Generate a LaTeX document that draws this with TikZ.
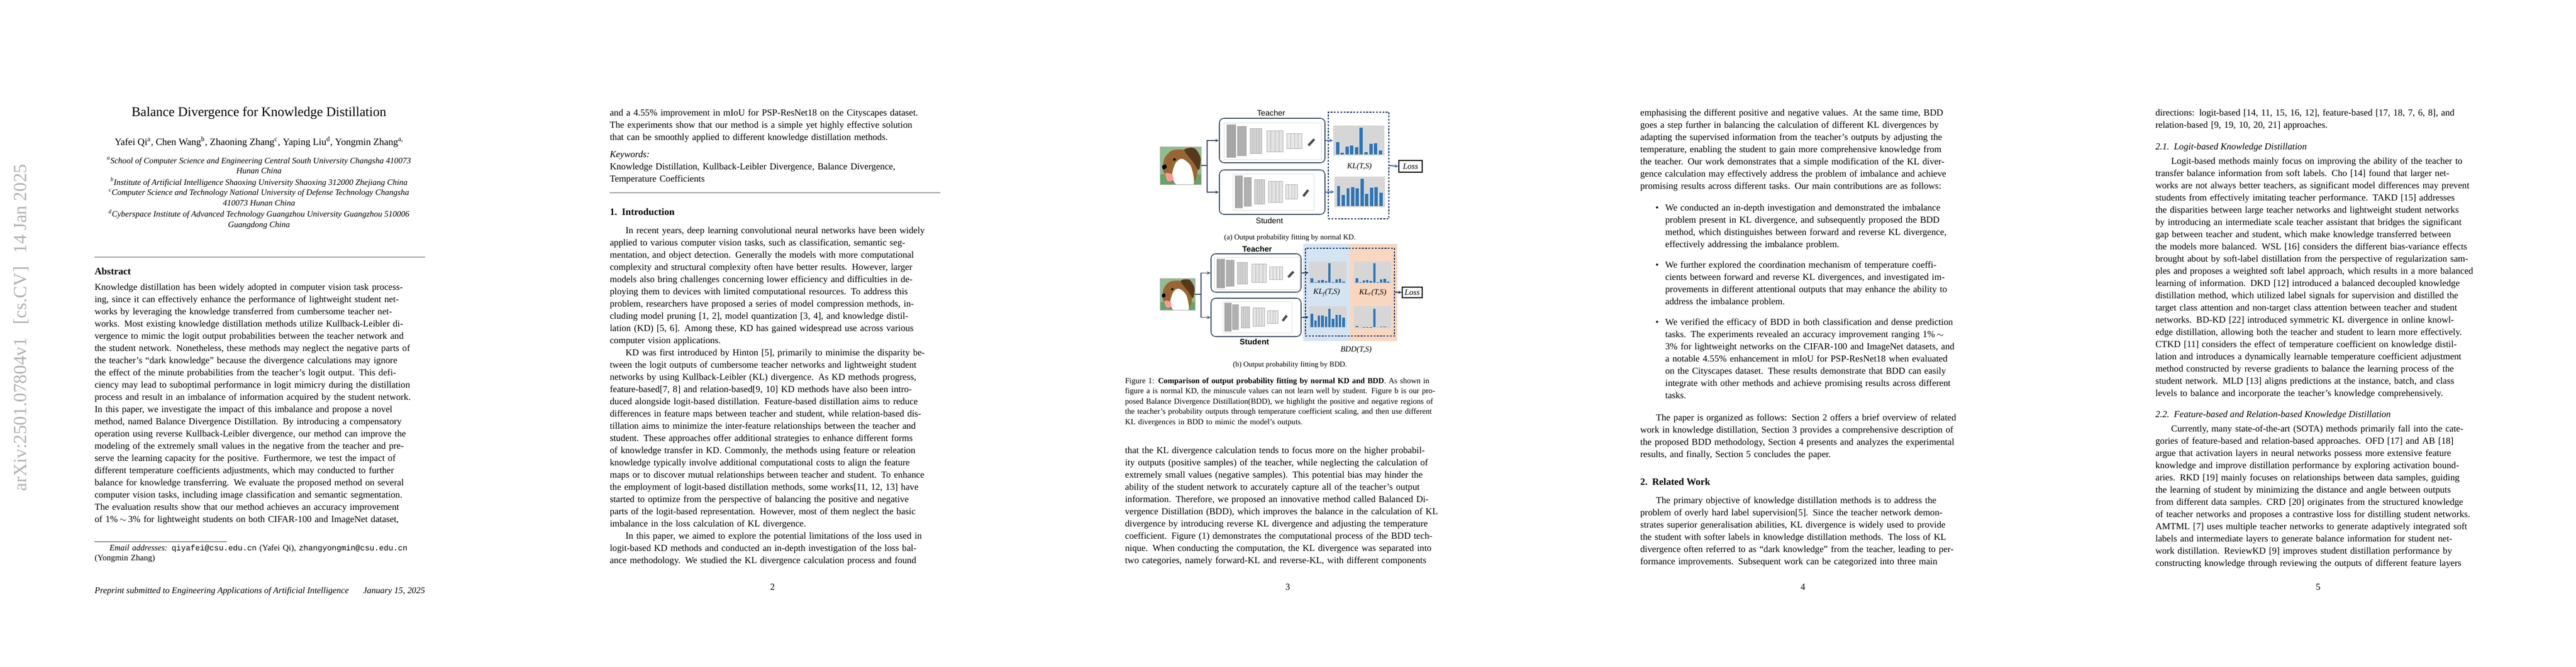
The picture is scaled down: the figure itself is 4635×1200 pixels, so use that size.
\documentclass[tikz,border=0pt]{standalone}
\usepackage{fontspec}
\setmainfont{Liberation Serif}
\setmonofont{Liberation Mono}
\newfontfamily\figsans{Liberation Sans}
\usetikzlibrary{arrows.meta,fit}
\definecolor{barblue}{RGB}{46,117,182}
\definecolor{slate}{RGB}{68,84,106}
\definecolor{arrblue}{RGB}{68,114,196}
\definecolor{navy}{RGB}{31,56,100}
\definecolor{bgblue}{RGB}{212,228,243}
\definecolor{bgorange}{RGB}{249,214,192}
\newcommand\jl[1]{\makebox[\hsize][s]{\strut#1}\\}
\newcommand\el[1]{\strut#1}
\newcommand\pct[1]{\mbox{#1\%}}
\newcommand\tld{\mbox{\,$\sim$\,}}
\newcommand\convs[4]{%
 \pgfmathsetmacro\cxa{#1}\pgfmathsetmacro\cya{#2}\pgfmathsetmacro\cW{#3-#1}\pgfmathsetmacro\cH{#4-#2}%
 \draw[gray!25, fill=white] (#1,#2) rectangle (#3,#4);
 \foreach \ff/\ww/\hh/\cc in {0.03/0.09/0.9/gray!75,0.14/0.09/0.8/gray!65,0.27/0.12/0.68/gray!35,0.44/0.17/0.58/gray!22,0.65/0.15/0.4/gray!18}{
   \fill[\cc, draw=gray!60] ({\cxa+\ff*\cW},{\cya+(0.5+\hh/2)*\cH}) rectangle ({\cxa+(\ff+\ww)*\cW},{\cya+(0.5-\hh/2)*\cH});
   \foreach \k in {1,2,3}{\draw[gray!55, line width=0.2pt] ({\cxa+(\ff+\k*\ww/4)*\cW},{\cya+(0.5+\hh/2)*\cH}) -- ({\cxa+(\ff+\k*\ww/4)*\cW},{\cya+(0.5-\hh/2)*\cH});}
 }
 \draw[line width=2.5pt, black!70] ({\cxa+0.87*\cW},{\cya+0.62*\cH}) -- ({\cxa+0.93*\cW},{\cya+0.45*\cH});
}
\newcommand\hist[5]{%
 \pgfmathsetmacro\hxa{#1}\pgfmathsetmacro\hyb{#4}\pgfmathsetmacro\hW{#3-#1}\pgfmathsetmacro\hH{#4-#2}%
 \fill[gray!32] (#1,#2) rectangle (#3,#4);
 \foreach \hv [count=\i from 0] in {#5}{
   \fill[barblue] ({\hxa+(0.05+\i*0.093)*\hW},{\hyb-0.04*\hH}) rectangle ({\hxa+(0.05+\i*0.093+0.065)*\hW},{\hyb-0.04*\hH-\hv*0.88*\hH});}
}
\newcommand\dogpic[3]{%
 \begin{scope}[shift={(#1,#2)}, scale=#3]
  \fill[green!25!gray!70] (0,0) rectangle (74,68);
  \fill[green!40!black!60] (0,50) rectangle (74,68);
  \fill[brown!80!black] plot[smooth cycle] coordinates {(8,22)(20,8)(36,5)(54,8)(64,20)(68,42)(62,62)(40,68)(20,62)(6,44)};
  \fill[brown!45!black] plot[smooth cycle] coordinates {(44,6)(62,3)(73,20)(70,42)(60,28)};
  \fill[white] plot[smooth cycle] coordinates {(28,30)(40,22)(56,36)(60,68)(30,68)(22,52)};
  \fill[black] plot[smooth cycle] coordinates {(4,35)(10,32)(12,38)(6,41)};
  \fill[pink!80!red] plot[smooth cycle] coordinates {(10,48)(22,50)(24,60)(14,62)};
  \fill[black] plot[smooth cycle] coordinates {(24,22)(28,21)(28,25)(24,25)};
  \draw[gray!60] (0,0) rectangle (74,68);
 \end{scope}}
\tikzset{
 body/.style={anchor=north west, inner sep=0, text width=357pt, align=left, font=\fontsize{10}{13.2}\selectfont},
 bul/.style={body, text width=330pt},
 capt/.style={anchor=north west, inner sep=0, text width=357pt, align=left, font=\fontsize{8.5}{11.1}\selectfont},
 sline/.style={anchor=base, inner sep=0},
 hdg/.style={anchor=base west, inner sep=0, font=\fontsize{10.5}{12}\selectfont\bfseries},
 shdg/.style={anchor=base west, inner sep=0, font=\fontsize{10}{12}\selectfont\itshape},
 pno/.style={anchor=base, inner sep=0, font=\fontsize{10}{12}\selectfont},
 netbox/.style={draw=slate, line width=1pt, rounded corners=5pt, inner sep=0},
 arrc/.style={-{Stealth[length=4pt,width=3.5pt]}, line width=1.1pt, draw=slate},
 arrh/.style={-{Stealth[length=4pt,width=3.5pt]}, line width=1.3pt, draw=arrblue},
 arrn/.style={-{Stealth[length=4pt,width=3.5pt]}, line width=1.1pt, draw=navy},
 dbox/.style={draw=navy, line width=0.7pt, dash pattern=on 2pt off 1.5pt, inner sep=0},
 lossbox/.style={draw=black, line width=0.9pt, inner sep=0, font=\fontsize{9}{10}\selectfont\itshape},
 figlab/.style={inner sep=0, font=\figsans\fontsize{8.5}{10}\selectfont},
 kllab/.style={inner sep=0, font=\fontsize{8.5}{10}\selectfont\itshape},
 subcap/.style={anchor=base, inner sep=0, font=\fontsize{8}{10}\selectfont}
}
\begin{document}
\begin{tikzpicture}[x=0.6pt,y=-0.6pt]
\useasboundingbox (0,0) rectangle (4635,1200);
\fill[white] (0,0) rectangle (4635,1200);

%%%%%%%%%%%%%%%% PAGE 1
\node[inner sep=0, rotate=90, text=gray!60, font=\fontsize{20}{22}\selectfont] (arxiv) at (38,590) {arXiv:2501.07804v1\hspace{14pt}[cs.CV]\hspace{14pt}14 Jan 2025};
\node[sline, font=\fontsize{14.4}{16}\selectfont] (title) at (466,209) {Balance Divergence for Knowledge Distillation};
\node[sline, font=\fontsize{10.5}{12}\selectfont] (authors) at (466,261) {Yafei Qi\textsuperscript{a}, Chen Wang\textsuperscript{b}, Zhaoning Zhang\textsuperscript{c}, Yaping Liu\textsuperscript{d}, Yongmin Zhang\textsuperscript{a,}};
\node[anchor=north, inner sep=0, align=center, font=\fontsize{9}{11.1}\selectfont\itshape] (affil) at (466,281) {%
\strut\textsuperscript{a}School of Computer Science and Engineering Central South University Changsha 410073\\
\strut Hunan China\\
\strut\textsuperscript{b}Institute of Artificial Intelligence Shaoxing University Shaoxing 312000 Zhejiang China\\
\strut\textsuperscript{c}Computer Science and Technology National University of Defense Technology Changsha\\
\strut 410073 Hunan China\\
\strut\textsuperscript{d}Cyberspace Institute of Advanced Technology Guangzhou University Guangzhou 510006\\
\strut Guangdong China};
\draw[gray!70, line width=1pt] (170,463) -- (765,463);
\node[hdg] (abshd) at (170,494) {Abstract};
\node[body] (abs) at (170,507) {%
\jl{Knowledge distillation has been widely adopted in computer vision task process-}
\jl{ing, since it can effectively enhance the performance of lightweight student net-}
\jl{works by leveraging the knowledge transferred from cumbersome teacher net-}
\jl{works. Most existing knowledge distillation methods utilize Kullback-Leibler di-}
\jl{vergence to mimic the logit output probabilities between the teacher network and}
\jl{the student network. Nonetheless, these methods may neglect the negative parts of}
\jl{the teacher's ``dark knowledge'' because the divergence calculations may ignore}
\jl{the effect of the minute probabilities from the teacher's logit output. This defi-}
\jl{ciency may lead to suboptimal performance in logit mimicry during the distillation}
\jl{process and result in an imbalance of information acquired by the student network.}
\jl{In this paper, we investigate the impact of this imbalance and propose a novel}
\jl{method, named Balance Divergence Distillation. By introducing a compensatory}
\jl{operation using reverse Kullback-Leibler divergence, our method can improve the}
\jl{modeling of the extremely small values in the negative from the teacher and pre-}
\jl{serve the learning capacity for the positive. Furthermore, we test the impact of}
\jl{different temperature coefficients adjustments, which may conducted to further}
\jl{balance for knowledge transferring. We evaluate the proposed method on several}
\jl{computer vision tasks, including image classification and semantic segmentation.}
\jl{The evaluation results show that our method achieves an accuracy improvement}
\jl{of \mbox{1\%\tld3\%} for lightweight students on both CIFAR-100 and ImageNet dataset,}};
\draw[black!70, line width=0.6pt] (170,975) -- (408,975);
\node[anchor=north west, inner sep=0, text width=357pt, align=left, font=\fontsize{9}{10.8}\selectfont] (foot) at (170,979) {%
\strut\hspace*{16pt}\textit{Email addresses:} \texttt{\fontsize{8.5}{10}\selectfont qiyafei@csu.edu.cn} (Yafei Qi), \texttt{\fontsize{8.5}{10}\selectfont zhangyongmin@csu.edu.cn}\\
\strut(Yongmin Zhang)};
\node[anchor=base west, inner sep=0, font=\fontsize{9.5}{11}\selectfont\itshape] (prep) at (170,1068) {Preprint submitted to Engineering Applications of Artificial Intelligence};
\node[anchor=base east, inner sep=0, font=\fontsize{9.5}{11}\selectfont\itshape] (date) at (765,1068) {January 15, 2025};

%%%%%%%%%%%%%%%% PAGE 2
\node[body] (p2a) at (1097,193) {%
\jl{and a \pct{4.55} improvement in mIoU for PSP-ResNet18 on the Cityscapes dataset.}
\jl{The experiments show that our method is a simple yet highly effective solution}
\el{that can be smoothly applied to different knowledge distillation methods.}};
\node[anchor=base west, inner sep=0, font=\fontsize{10}{12}\selectfont\itshape] (kwhd) at (1097,283) {Keywords:};
\node[body] (kw) at (1097,290) {%
\strut Knowledge Distillation, Kullback-Leibler Divergence, Balance Divergence,\\
\strut Temperature Coefficients};
\draw[gray!70, line width=1pt] (1097,347) -- (1692,347);
\node[hdg] (intro) at (1097,387) {1.\hspace{5pt}Introduction};
\node[body] (p2b) at (1097,405) {%
\jl{\hspace*{17pt}In recent years, deep learning convolutional neural networks have been widely}
\jl{applied to various computer vision tasks, such as classification, semantic seg-}
\jl{mentation, and object detection. Generally the models with more computational}
\jl{complexity and structural complexity often have better results. However, larger}
\jl{models also bring challenges concerning lower efficiency and difficulties in de-}
\jl{ploying them to devices with limited computational resources. To address this}
\jl{problem, researchers have proposed a series of model compression methods, in-}
\jl{cluding model pruning [1, 2], model quantization [3, 4], and knowledge distil-}
\jl{lation (KD) [5, 6]. Among these, KD has gained widespread use across various}
\el{computer vision applications.}\\
\jl{\hspace*{17pt}KD was first introduced by Hinton [5], primarily to minimise the disparity be-}
\jl{tween the logit outputs of cumbersome teacher networks and lightweight student}
\jl{networks by using Kullback-Leibler (KL) divergence. As KD methods progress,}
\jl{feature-based[7, 8] and relation-based[9, 10] KD methods have also been intro-}
\jl{duced alongside logit-based distillation. Feature-based distillation aims to reduce}
\jl{differences in feature maps between teacher and student, while relation-based dis-}
\jl{tillation aims to minimize the inter-feature relationships between the teacher and}
\jl{student. These approaches offer additional strategies to enhance different forms}
\jl{of knowledge transfer in KD. Commonly, the methods using feature or releation}
\jl{knowledge typically involve additional computational costs to align the feature}
\jl{maps or to discover mutual relationships between teacher and student. To enhance}
\jl{the employment of logit-based distillation methods, some works[11, 12, 13] have}
\jl{started to optimize from the perspective of balancing the positive and negative}
\jl{parts of the logit-based representation. However, most of them neglect the basic}
\el{imbalance in the loss calculation of KL divergence.}\\
\jl{\hspace*{17pt}In this paper, we aimed to explore the potential limitations of the loss used in}
\jl{logit-based KD methods and conducted an in-depth investigation of the loss bal-}
\jl{ance methodology. We studied the KL divergence calculation process and found}};
\node[pno] (pn2) at (1390,1062) {2};

%%%%%%%%%%%%%%%% PAGE 3 : figure (a)
\node[figlab] (teachA) at (2287,203) {Teacher};
\node[netbox, fit={(2194,213)(2384,293)}] (ta) {};
\node[netbox, fit={(2194,306)(2384,386)}] (sa) {};
\convs{2202}{221}{2377}{287}
\convs{2218}{313}{2364}{378}
\node[figlab] (studA) at (2284,397) {Student};
\dogpic{2087}{264}{1}
\node[inner sep=0, fit={(2087,264)(2161,332)}] (dogA) {};
\coordinate (jA) at (2172,298);
\draw[arrc] (dogA.east) -- (jA) |- (ta.west);
\draw[arrc] (jA) |- (sa.west);
\hist{2399}{226}{2491}{280}{0.45,0.05,0.3,0.33,0.28,1.0,0.08,0.4,0.42,0.15}
\hist{2401}{318}{2492}{373}{0.75,0.4,0.65,0.7,0.65,1.0,0.45,0.68,0.7,0.5}
\node[inner sep=0, fit={(2399,226)(2491,280)}] (hTa) {};
\node[inner sep=0, fit={(2401,318)(2492,373)}] (hSa) {};
\node[dbox, fit={(2390,202)(2499,394)}] (dashA) {};
\draw[arrh] (ta.east) -- (hTa.west);
\draw[arrh] (sa.east) -- (hSa.west);
\node[kllab] (klA) at (2446,300) {KL(T,S)};
\node[lossbox, minimum width=25.2pt, minimum height=12.6pt] (lossA) at (2538,299.5) {Loss};
\draw[arrh] (dashA.east) -- (lossA.west);
\node[subcap] (capA) at (2321,431) {(a) Output probability fitting by normal KD.};

%%%%%%%%%%%%%%%% figure (b)
\fill[bgblue] (2345,439) rectangle (2429,614);
\fill[bgorange] (2429,439) rectangle (2514,614);
\node[figlab, font=\figsans\bfseries\fontsize{8.5}{10}\selectfont] (teachB) at (2262,448) {Teacher};
\node[netbox, fit={(2179,457)(2341,526)}] (tb) {};
\node[netbox, fit={(2179,537)(2341,606)}] (sb) {};
\convs{2185}{463}{2338}{521}
\convs{2200}{543}{2324}{599}
\node[figlab, font=\figsans\bfseries\fontsize{8.5}{10}\selectfont] (studB) at (2257,615) {Student};
\dogpic{2087}{501}{0.85}
\node[inner sep=0, fit={(2087,501)(2150,559)}] (dogB) {};
\coordinate (jB) at (2161,530);
\draw[arrc] (dogB.east) -- (jB) |- (tb.west);
\draw[arrc] (jB) |- (sb.west);
\hist{2355}{471}{2423}{511}{0.25,0.04,0.12,0.14,0.1,1.0,0.04,0.18,0.2,0.06}
\hist{2436}{471}{2503}{511}{0.25,0.04,0.12,0.14,0.1,1.0,0.04,0.18,0.2,0.06}
\hist{2355}{551}{2423}{591}{0.7,0.35,0.6,0.6,0.55,0.95,0.45,0.65,0.65,0.5}
\hist{2436}{551}{2503}{591}{0.08,0,0.02,0.02,0.02,0.95,0,0.04,0.04,0}
\node[inner sep=0, fit={(2355,471)(2423,511)}] (hTb) {};
\node[inner sep=0, fit={(2355,551)(2423,591)}] (hSb) {};
\node[dbox, fit={(2349,447)(2509,605)}] (dashB) {};
\draw[arrn] (tb.east) -- (hTb.west);
\draw[arrn] (sb.east) -- (hSb.west);
\node[kllab] (klf) at (2387,527) {KL\textsubscript{f}(T,S)};
\node[kllab] (klr) at (2470,527) {KL\textsubscript{r}(T,S)};
\node[lossbox, minimum width=21.6pt, minimum height=11.4pt] (lossB) at (2541,526.5) {Loss};
\draw[arrn] (dashB.east) -- (lossB.west);
\node[kllab] (bdd) at (2440,630) {BDD(T,S)};
\node[subcap] (capB) at (2321,660) {(b) Output probability fitting by BDD.};

\node[capt] (figcap) at (2024,677) {%
\jl{Figure 1:\hspace{4pt}\textbf{Comparison of output probability fitting by normal KD and BDD}. As shown in}
\jl{figure a is normal KD, the minuscule values can not learn well by student. Figure b is our pro-}
\jl{posed Balance Divergence Distillation(BDD), we highlight the positive and negative regions of}
\jl{the teacher's probability outputs through temperature coefficient scaling, and then use different}
\el{KL divergences in BDD to mimic the model's outputs.}};
\node[body] (p3a) at (2024,801) {%
\jl{that the KL divergence calculation tends to focus more on the higher probabil-}
\jl{ity outputs (positive samples) of the teacher, while neglecting the calculation of}
\jl{extremely small values (negative samples). This potential bias may hinder the}
\jl{ability of the student network to accurately capture all of the teacher's output}
\jl{information. Therefore, we proposed an innovative method called Balanced Di-}
\jl{vergence Distillation (BDD), which improves the balance in the calculation of KL}
\jl{divergence by introducing reverse KL divergence and adjusting the temperature}
\jl{coefficient. Figure (1) demonstrates the computational process of the BDD tech-}
\jl{nique. When conducting the computation, the KL divergence was separated into}
\jl{two categories, namely forward-KL and reverse-KL, with different components}};
\node[pno] (pn3) at (2317,1062) {3};

%%%%%%%%%%%%%%%% PAGE 4
\node[body] (p4a) at (2951,193) {%
\jl{emphasising the different positive and negative values. At the same time, BDD}
\jl{goes a step further in balancing the calculation of different KL divergences by}
\jl{adapting the supervised information from the teacher's outputs by adjusting the}
\jl{temperature, enabling the student to gain more comprehensive knowledge from}
\jl{the teacher. Our work demonstrates that a simple modification of the KL diver-}
\jl{gence calculation may effectively address the problem of imbalance and achieve}
\el{promising results across different tasks. Our main contributions are as follows:}};
\node[bul] (b1) at (2996,364) {%
\jl{\llap{\textbullet\hspace{7pt}}We conducted an in-depth investigation and demonstrated the imbalance}
\jl{problem present in KL divergence, and subsequently proposed the BDD}
\jl{method, which distinguishes between forward and reverse KL divergence,}
\el{effectively addressing the imbalance problem.}};
\node[bul] (b2) at (2996,467) {%
\jl{\llap{\textbullet\hspace{7pt}}We further explored the coordination mechanism of temperature coeffi-}
\jl{cients between forward and reverse KL divergences, and investigated im-}
\jl{provements in different attentional outputs that may enhance the ability to}
\el{address the imbalance problem.}};
\node[bul] (b3) at (2996,570) {%
\jl{\llap{\textbullet\hspace{7pt}}We verified the efficacy of BDD in both classification and dense prediction}
\jl{tasks. The experiments revealed an accuracy improvement ranging \mbox{1\%\tld}}
\jl{\pct{3} for lightweight networks on the CIFAR-100 and ImageNet datasets, and}
\jl{a notable \pct{4.55} enhancement in mIoU for PSP-ResNet18 when evaluated}
\jl{on the Cityscapes dataset. These results demonstrate that BDD can easily}
\jl{integrate with other methods and achieve promising results across different}
\el{tasks.}};
\node[body] (p4b) at (2951,742) {%
\jl{\hspace*{17pt}The paper is organized as follows: Section 2 offers a brief overview of related}
\jl{work in knowledge distillation, Section 3 provides a comprehensive description of}
\jl{the proposed BDD methodology, Section 4 presents and analyzes the experimental}
\el{results, and finally, Section 5 concludes the paper.}};
\node[hdg] (relw) at (2951,873) {2.\hspace{5pt}Related Work};
\node[body] (p4c) at (2951,891) {%
\jl{\hspace*{17pt}The primary objective of knowledge distillation methods is to address the}
\jl{problem of overly hard label supervision[5]. Since the teacher network demon-}
\jl{strates superior generalisation abilities, KL divergence is widely used to provide}
\jl{the student with softer labels in knowledge distillation methods. The loss of KL}
\jl{divergence often referred to as ``dark knowledge'' from the teacher, leading to per-}
\jl{formance improvements. Subsequent work can be categorized into three main}};
\node[pno] (pn4) at (3244,1062) {4};

%%%%%%%%%%%%%%%% PAGE 5
\node[body] (p5a) at (3878,193) {%
\jl{directions: logit-based [14, 11, 15, 16, 12], feature-based [17, 18, 7, 6, 8], and}
\el{relation-based [9, 19, 10, 20, 21] approaches.}};
\node[shdg] (s21) at (3878,269) {2.1.\hspace{5pt}Logit-based Knowledge Distillation};
\node[body] (p5b) at (3878,280) {%
\jl{\hspace*{17pt}Logit-based methods mainly focus on improving the ability of the teacher to}
\jl{transfer balance information from soft labels. Cho [14] found that larger net-}
\jl{works are not always better teachers, as significant model differences may prevent}
\jl{students from effectively imitating teacher performance. TAKD [15] addresses}
\jl{the disparities between large teacher networks and lightweight student networks}
\jl{by introducing an intermediate scale teacher assistant that bridges the significant}
\jl{gap between teacher and student, which make knowledge transferred between}
\jl{the models more balanced. WSL [16] considers the different bias-variance effects}
\jl{brought about by soft-label distillation from the perspective of regularization sam-}
\jl{ples and proposes a weighted soft label approach, which results in a more balanced}
\jl{learning of information. DKD [12] introduced a balanced decoupled knowledge}
\jl{distillation method, which utilized label signals for supervision and distilled the}
\jl{target class attention and non-target class attention between teacher and student}
\jl{networks. BD-KD [22] introduced symmetric KL divergence in online knowl-}
\jl{edge distillation, allowing both the teacher and student to learn more effectively.}
\jl{CTKD [11] considers the effect of temperature coefficient on knowledge distil-}
\jl{lation and introduces a dynamically learnable temperature coefficient adjustment}
\jl{method constructed by reverse gradients to balance the learning process of the}
\jl{student network. MLD [13] aligns predictions at the instance, batch, and class}
\el{levels to balance and incorporate the teacher's knowledge comprehensively.}};
\node[shdg] (s22) at (3878,751) {2.2.\hspace{5pt}Feature-based and Relation-based Knowledge Distillation};
\node[body] (p5c) at (3878,762) {%
\jl{\hspace*{17pt}Currently, many state-of-the-art (SOTA) methods primarily fall into the cate-}
\jl{gories of feature-based and relation-based approaches. OFD [17] and AB [18]}
\jl{argue that activation layers in neural networks possess more extensive feature}
\jl{knowledge and improve distillation performance by exploring activation bound-}
\jl{aries. RKD [19] mainly focuses on relationships between data samples, guiding}
\jl{the learning of student by minimizing the distance and angle between outputs}
\jl{from different data samples. CRD [20] originates from the structured knowledge}
\jl{of teacher networks and proposes a contrastive loss for distilling student networks.}
\jl{AMTML [7] uses multiple teacher networks to generate adaptively integrated soft}
\jl{labels and intermediate layers to generate balance information for student net-}
\jl{work distillation. ReviewKD [9] improves student distillation performance by}
\jl{constructing knowledge through reviewing the outputs of different feature layers}};
\node[pno] (pn5) at (4171,1062) {5};
\end{tikzpicture}
\end{document}
